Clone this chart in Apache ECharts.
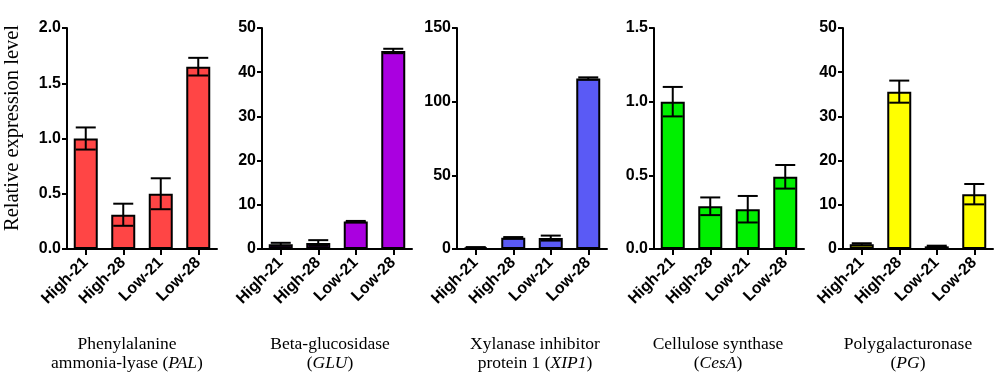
<!DOCTYPE html>
<html>
<head>
<meta charset="utf-8">
<script src="https://cdn.jsdelivr.net/npm/echarts@6/dist/echarts.min.js"></script>
<style>
  html, body { margin: 0; padding: 0; background: #fff; }
  #chart { width: 1000px; height: 377px; }
</style>
</head>
<body>
<div id="chart"></div>
<script>
const categories = ['High-21', 'High-28', 'Low-21', 'Low-28'];

// mean and error (half-length) per gene
const palMean = [1.0, 0.31, 0.50, 1.65];
const palErr = [0.10, 0.10, 0.14, 0.08];
const gluMean = [1.05, 1.35, 6.2, 44.8];
const gluErr = [0.35, 0.65, 0.15, 0.5];
const xipMean = [1.0, 7.6, 7.4, 115.7];
const xipErr = [0.3, 0.5, 1.7, 0.8];
const cesaMean = [1.0, 0.29, 0.27, 0.49];
const cesaErr = [0.10, 0.06, 0.09, 0.08];
const pgMean = [1.05, 35.6, 0.6, 12.4];
const pgErr = [0.25, 2.5, 0.15, 2.3];

const yMax = [2, 50, 150, 1.5, 50];
const yStep = [0.5, 10, 50, 0.5, 10];
const yDecimals = [1, 0, 0, 1, 0];

const titleLine1 = ['Phenylalanine', 'Beta-glucosidase', 'Xylanase inhibitor', 'Cellulose synthase', 'Polygalacturonase'];
const titlePrefix = ['ammonia-lyase (', '(', 'protein 1 (', '(', '('];
const geneAbbr = ['PAL', 'GLU', 'XIP1', 'CesA', 'PG'];

const means = [palMean, gluMean, xipMean, cesaMean, pgMean];
const errs = [palErr, gluErr, xipErr, cesaErr, pgErr];
const colors = ['#FF4545', '#AA00E0', '#5A5AF5', '#00F000', '#FFFF00'];

const gridLeft = [67, 262, 457, 654, 843];
const titleX = [127, 330, 535, 718, 908];

const sansFont = '"Liberation Sans", Arial, sans-serif';
const serifFont = '"Liberation Serif", "Times New Roman", serif';

const chart = echarts.init(document.getElementById('chart'));

const grids = [];
const xAxes = [];
const yAxes = [];
const series = [];
const graphics = [];

for (let i = 0; i < 5; i++) {
  grids.push({ left: gridLeft[i], top: 28, width: 150, height: 221 });

  xAxes.push({
    type: 'category',
    gridIndex: i,
    data: categories,
    axisLine: { show: true, lineStyle: { color: '#000', width: 2 } },
    axisTick: { show: true, alignWithLabel: true, length: 6, lineStyle: { color: '#000', width: 2 } },
    axisLabel: {
      interval: 0,
      rotate: 45,
      margin: 11,
      color: '#000',
      fontFamily: sansFont,
      fontWeight: 'bold',
      fontSize: 16
    }
  });

  const dec = yDecimals[i];
  yAxes.push({
    type: 'value',
    gridIndex: i,
    min: 0,
    max: yMax[i],
    interval: yStep[i],
    splitLine: { show: false },
    axisLine: { show: true, lineStyle: { color: '#000', width: 2 } },
    axisTick: { show: true, length: 5, lineStyle: { color: '#000', width: 2 } },
    axisLabel: {
      margin: 6,
      color: '#000',
      fontFamily: sansFont,
      fontWeight: 'bold',
      fontSize: 16,
      formatter: (v) => v.toFixed(dec)
    }
  });

  series.push({
    type: 'bar',
    xAxisIndex: i,
    yAxisIndex: i,
    data: means[i],
    barWidth: 24,
    itemStyle: { color: colors[i], borderColor: '#000', borderWidth: 2 }
  });

  series.push({
    type: 'custom',
    xAxisIndex: i,
    yAxisIndex: i,
    z: 5,
    encode: { x: 0, y: [1, 2] },
    data: means[i].map((m, k) => [k, m - errs[i][k], m + errs[i][k]]),
    renderItem: (params, api) => {
      const lo = api.coord([api.value(0), api.value(1)]);
      const hi = api.coord([api.value(0), api.value(2)]);
      const hw = 10;
      const style = { stroke: '#000', lineWidth: 2 };
      return {
        type: 'group',
        children: [
          { type: 'line', shape: { x1: lo[0], y1: lo[1], x2: hi[0], y2: hi[1] }, style },
          { type: 'line', shape: { x1: lo[0] - hw, y1: lo[1], x2: lo[0] + hw, y2: lo[1] }, style },
          { type: 'line', shape: { x1: hi[0] - hw, y1: hi[1], x2: hi[0] + hw, y2: hi[1] }, style }
        ]
      };
    }
  });

  graphics.push({
    type: 'text',
    position: [titleX[i], 335],
    style: {
      text: titleLine1[i],
      textAlign: 'center',
      fill: '#000',
      font: '17.5px ' + serifFont
    }
  });

  graphics.push({
    type: 'text',
    position: [titleX[i], 354],
    style: {
      text: '{n|' + titlePrefix[i] + '}{i|' + geneAbbr[i] + '}{n|)}',
      textAlign: 'center',
      fill: '#000',
      rich: {
        n: { fontFamily: serifFont, fontSize: 17.5, fill: '#000' },
        i: { fontFamily: serifFont, fontSize: 17.5, fontStyle: 'italic', fill: '#000' }
      }
    }
  });
}

graphics.push({
  type: 'text',
  position: [2, 128],
  rotation: Math.PI / 2,
  style: {
    text: 'Relative expression level',
    textAlign: 'center',
    textVerticalAlign: 'top',
    fill: '#000',
    font: '20.5px ' + serifFont
  }
});

chart.setOption({
  animation: false,
  grid: grids,
  xAxis: xAxes,
  yAxis: yAxes,
  series: series,
  graphic: graphics
});
</script>
</body>
</html>
